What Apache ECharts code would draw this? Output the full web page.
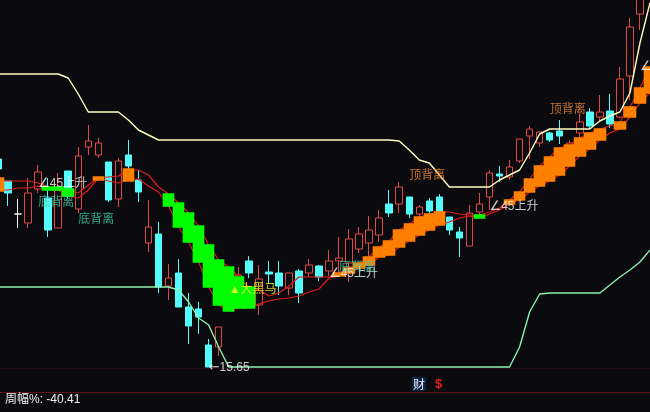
<!DOCTYPE html>
<html><head><meta charset="utf-8">
<style>html,body{margin:0;padding:0;background:#0b0b0f}#c{width:650px;height:412px}</style>
<script src="https://cdn.jsdelivr.net/npm/echarts@6/dist/echarts.min.js"></script>
</head><body><div id="c"></div>
<script>
// [open, close, low, high]
const candles=[
[36.45,35.45,35.15,36.85],[34.25,33.05,31.75,34.25],[30.95,30.95,29.55,32.45],[30.05,33.05,29.55,34.55],
[33.45,35.15,33.05,35.85],[32.55,29.35,28.65,34.55],[29.55,33.35,29.55,35.05],[35.25,33.35,32.55,35.25],
[31.45,36.75,31.05,37.65],[37.65,38.25,36.85,39.85],[36.85,38.05,36.55,38.55],[36.15,32.35,32.15,36.15],
[32.45,36.25,31.65,36.55],[36.85,35.75,35.45,38.35],[34.35,33.15,32.15,35.35],[28.05,29.65,27.15,32.35],
[28.95,23.65,23.05,30.15],[23.75,24.55,22.35,25.95],[25.05,21.65,21.65,26.45],[21.65,19.75,17.95,23.05],
[21.45,20.65,18.95,22.15],[17.85,15.65,15.65,18.45],[17.65,19.65,16.75,19.65],[22.35,23.85,21.85,25.35],
[23.35,24.85,22.35,25.65],[26.25,25.05,24.55,26.75],[21.85,24.45,20.85,25.85],[25.15,24.95,23.95,26.25],
[25.05,23.75,22.85,26.25],[23.55,25.05,22.85,25.05],[25.25,23.05,22.05,25.45],[25.05,25.85,24.65,26.45],
[25.75,24.65,24.25,25.85],[25.25,26.25,24.75,27.35],[26.25,26.55,25.05,28.65],[26.05,28.45,24.15,29.45],
[27.45,28.95,27.05,29.65],[28.05,29.35,26.75,30.75],[28.85,30.55,28.15,31.35],[31.95,31.05,30.65,33.35],
[31.95,33.65,31.05,34.15],[32.65,30.95,30.55,32.65],[30.95,31.65,30.65,31.85],[32.25,31.25,30.85,32.55],
[32.65,31.15,31.15,32.95],[30.65,29.35,28.85,30.65],[29.15,28.55,26.65,29.65],[27.75,31.05,27.75,31.85],
[31.15,31.95,30.85,33.05],[32.65,35.05,31.35,35.35],[34.95,34.75,34.15,35.75],[34.65,35.65,34.35,36.35],
[36.25,38.45,36.05,38.45],[38.75,39.45,36.45,39.75],[38.05,39.15,37.65,39.25],[39.05,38.35,38.15,39.15],
[39.25,38.75,37.95,40.35],[37.35,38.05,36.85,38.35],[39.05,40.15,38.65,41.05],[41.15,39.75,39.45,41.55],
[40.65,41.15,40.15,42.85],[41.25,39.95,39.55,42.95],[40.65,44.45,40.55,45.65],[44.75,49.65,42.35,50.55],
[50.95,52.85,49.35,53.35]
];
const dojiIndex=2;
const categories=Array.from({length:66},(_,i)=>'W'+(i+1));
// [bar index, upper, lower]
const greenBand=[[5,33.65,33.35],[6,33.65,33.35],[7,33.45,32.75],[17,32.95,31.75],[18,32.05,29.65],[19,31.05,28.15],[20,29.75,26.15],[21,27.85,23.65],[22,26.35,21.85],[23,25.65,21.25],[24,24.65,21.55],[25,23.65,21.55],[48,30.85,30.55]];
const orangeBand=[[0,34.55,33.25],[10,34.65,34.35],[13,35.45,34.25],[34,25.05,24.75],[35,25.55,25.05],[36,26.05,25.55],[37,26.65,25.85],[38,27.65,26.65],[39,28.25,26.85],[40,29.35,27.65],[41,29.95,28.25],[42,30.65,28.85],[43,30.95,29.35],[44,31.15,29.85],[51,32.35,31.95],[52,33.15,32.35],[53,34.45,33.15],[54,35.75,33.75],[55,36.65,34.25],[56,37.55,34.85],[57,37.85,35.75],[58,38.55,36.75],[59,39.05,37.45],[60,39.45,38.35],[62,40.15,39.45],[63,41.65,40.65],[64,43.55,42.05],[65,45.65,43.05]];
const maUpper=[34.25,34.25,34.25,34.25,34.05,33.65,33.55,33.35,33.05,33.85,34.55,34.65,34.75,35.35,35.35,34.85,33.65,32.95,32.05,31.05,29.75,27.85,26.35,25.65,24.65,23.65,23.35,22.75,23.05,23.75,24.65,24.65,24.65,24.65,25.05,25.55,26.05,26.65,27.65,28.25,29.35,29.95,30.65,30.95,31.15,31.15,30.95,30.85,30.85,31.15,31.55,32.35,33.15,34.45,35.75,36.65,37.55,37.85,38.55,39.05,39.45,39.75,40.15,41.65,43.55,45.65];
const maLower=[33.35,33.35,33.55,33.55,33.75,33.55,33.35,32.75,32.55,33.35,34.55,34.25,34.05,34.45,34.45,33.75,33.15,31.75,29.65,28.15,26.15,23.65,21.85,21.25,21.55,21.55,21.95,22.25,22.45,22.55,22.75,23.15,23.45,24.55,24.75,25.05,25.55,25.85,26.65,26.85,27.65,28.25,28.85,29.35,29.85,30.15,30.55,30.75,30.55,30.95,31.35,31.95,32.35,33.15,33.75,34.25,34.85,35.75,36.75,37.45,38.35,39.05,39.45,40.65,42.05,43.05];
const upperEnvelope=[44.95,44.95,44.95,44.95,44.95,44.95,44.95,44.55,42.95,41.15,41.15,41.15,41.15,40.35,39.35,38.85,38.35,38.35,38.35,38.35,38.35,38.35,38.35,38.35,38.35,38.35,38.35,38.35,38.35,38.35,38.35,38.35,38.35,38.35,38.35,38.35,38.35,38.35,38.35,38.35,38.25,37.35,36.35,36.05,34.85,33.65,33.65,33.65,33.65,33.65,34.35,34.85,35.35,37.05,38.95,39.45,39.45,39.45,39.45,39.45,40.25,40.75,41.15,43.05,48.05,52.05];
const lowerEnvelope=[23.65,23.65,23.65,23.65,23.65,23.65,23.65,23.65,23.65,23.65,23.65,23.65,23.65,23.65,23.65,23.65,23.65,23.65,23.35,22.15,20.55,19.85,17.65,15.65,15.65,15.65,15.65,15.65,15.65,15.65,15.65,15.65,15.65,15.65,15.65,15.65,15.65,15.65,15.65,15.65,15.65,15.65,15.65,15.65,15.65,15.65,15.65,15.65,15.65,15.65,15.65,15.65,17.65,21.15,22.95,23.05,23.05,23.05,23.05,23.05,23.05,23.85,24.65,25.35,26.15,27.35];
const signalLabels=[[4,33.95,'∠45上升'],[33,24.95,'∠45上升'],[49,31.65,'∠45上升'],[64,45.65,'∠45上升'],[21,15.55,'←15.65']];
const bottomLabels=[[4,32.05,'底背离'],[8,30.35,'底背离'],[34,25.55,'底背离']];
const topLabels=[[41,34.75,'顶背离'],[55,41.35,'顶背离']];
const horseLabels=[[23,23.35,'▲大黑马']];
const statusText='周幅%: -40.41';
const financeMark='财';
const riskMark='$';

const RED='#e04848',CYAN='#55fbfb',BG='#0b0b0f',FONT='"Liberation Sans","Noto Sans CJK SC",sans-serif';
const chart=echarts.init(document.getElementById('c'),null,{renderer:'canvas'});
const bandData=a=>{const d=categories.map(()=>['-','-','-','-']);a.forEach(([i,t,b])=>{d[i]=[b,t,b,t]});return d};
const bandSeries=(name,a,c)=>({name,type:'candlestick',data:bandData(a),barWidth:11,z:3,silent:true,
  itemStyle:{color:c,color0:c,borderColor:c,borderColor0:c,borderColorDoji:c,borderWidth:1.6}});
const lineSeries=(name,d,c,z,w)=>({name,type:'line',data:d,symbol:'none',z,silent:true,lineStyle:{color:c,width:w}});
const textSeries=(name,a,c,rich)=>({name,type:'scatter',symbolSize:0,z:6,silent:true,data:a.map(r=>({value:[r[0],r[1]],text:r[2]})),
  label:{show:true,position:'right',distance:0,color:c,fontSize:12,fontFamily:FONT,
    formatter:p=>rich?'{g|'+p.data.text[0]+'}'+p.data.text.slice(1):p.data.text,
    rich:rich?{g:{fontFamily:'"DejaVu Sans"',fontSize:13,color:'#ffffff'}}:undefined}});
chart.setOption({
  animation:false,backgroundColor:BG,
  grid:{left:-7,top:0,width:662,height:412,outerBoundsMode:'none',containLabel:false},
  xAxis:{type:'category',data:categories,show:false},
  yAxis:{type:'value',min:11.15,max:52.35,show:false,splitLine:{show:false}},
  series:[
    {name:'weekly',type:'candlestick',z:2,silent:true,barWidth:7,
     data:candles.map((c,i)=>i===dojiIndex?{value:c,itemStyle:{borderColor:'#f0f0f0',borderColor0:'#f0f0f0',borderColorDoji:'#f0f0f0'}}:c),
     itemStyle:{color:BG,color0:CYAN,borderColor:RED,borderColor0:CYAN,borderColorDoji:CYAN,borderWidth:1}},
    lineSeries('maUpper',maUpper,'#e01c1c',2.5,1.2),
    lineSeries('maLower',maLower,'#e01c1c',2.5,1.2),
    bandSeries('green',greenBand,'#00ff00'),
    bandSeries('orange',orangeBand,'#ff8000'),
    lineSeries('upperEnvelope',upperEnvelope,'#ffffc0',4,1.4),
    lineSeries('lowerEnvelope',lowerEnvelope,'#8cf0b0',4,1.4),
    textSeries('signals',signalLabels,'#f8f8f8',true),
    textSeries('bottoms',bottomLabels,'#40d0a4'),
    textSeries('tops',topLabels,'#f08838'),
    textSeries('horse',horseLabels,'#ffff30')
  ],
  graphic:[
    {type:'line',z:1,shape:{x1:0,y1:368.5,x2:650,y2:368.5},style:{stroke:'#1e0c12',lineWidth:1}},
    {type:'line',z:10,shape:{x1:0,y1:392.5,x2:650,y2:392.5},style:{stroke:'#661018',lineWidth:1}},
    {type:'rect',z:10,shape:{x:412,y:377,width:14,height:14},style:{fill:'#0c2444'}},
    {type:'text',z:11,left:413,top:378,style:{text:financeMark,fill:'#e8f0ff',font:'12px "Noto Sans CJK SC"'}},
    {type:'text',z:11,left:435,top:378,style:{text:riskMark,fill:'#e02020',font:'bold 13px "Liberation Sans"'}},
    {type:'text',z:11,left:5,top:394,style:{text:statusText,fill:'#f0f0f0',font:'12px "Liberation Sans","Noto Sans CJK SC"'}}
  ]
});
</script></body></html>
